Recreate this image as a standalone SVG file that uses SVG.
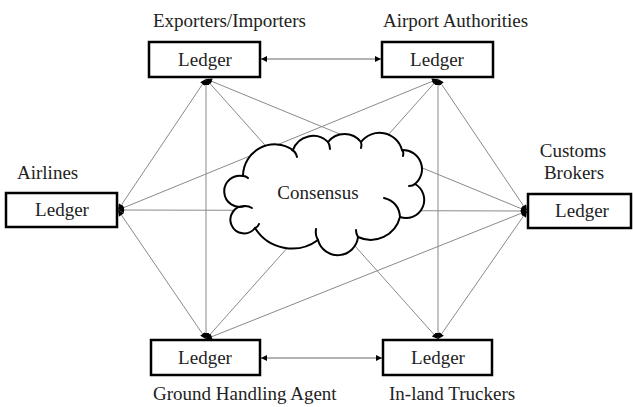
<svg xmlns="http://www.w3.org/2000/svg" width="633" height="407" viewBox="0 0 633 407">
  <style>
    .lbl { font-family: "Liberation Serif", "Times New Roman", serif; font-size: 19px; fill: #222; }
    .led { font-family: "Liberation Serif", "Times New Roman", serif; font-size: 19px; fill: #222; text-anchor: middle; }
    .box { fill: #fff; stroke: #000; stroke-width: 2.5; }
    .conn { stroke: #8a8a8a; stroke-width: 1; fill: none; marker-start: url(#ah); marker-end: url(#ah); }
    .hconn { stroke: #666; stroke-width: 1; fill: none; marker-start: url(#ah); marker-end: url(#ah); }
    .cloud { fill: #fff; stroke: #000; stroke-width: 2; stroke-linejoin: round; }
    .hook { fill: none; stroke: #000; stroke-width: 2; stroke-linecap: round; }
  </style>
  <defs>
    <marker id="ah" viewBox="0 0 10 10" refX="10" refY="5" markerWidth="7" markerHeight="6" orient="auto-start-reverse" markerUnits="userSpaceOnUse">
      <path d="M0,0 L10,5 L0,10 z" fill="#000"/>
    </marker>
  </defs>
  <rect width="633" height="407" fill="#fff"/>

  <g id="connectors">
    <line class="hconn" x1="261" y1="59" x2="381" y2="59"/>
    <line class="hconn" x1="261" y1="358" x2="382" y2="358"/>
    <line class="conn" x1="206" y1="79" x2="118" y2="210"/>
    <line class="conn" x1="206" y1="79" x2="527" y2="211"/>
    <line class="conn" x1="206" y1="79" x2="206" y2="339"/>
    <line class="conn" x1="206" y1="79" x2="438" y2="339"/>
    <line class="conn" x1="438" y1="79" x2="118" y2="210"/>
    <line class="conn" x1="438" y1="79" x2="527" y2="211"/>
    <line class="conn" x1="438" y1="79" x2="206" y2="339"/>
    <line class="conn" x1="438" y1="79" x2="438" y2="339"/>
    <line class="conn" x1="118" y1="210" x2="527" y2="211"/>
    <line class="conn" x1="118" y1="210" x2="206" y2="339"/>
    <line class="conn" x1="527" y1="211" x2="206" y2="339"/>
    <line class="conn" x1="527" y1="211" x2="438" y2="339"/>
  </g>

  <g id="consensus">
    <path class="cloud" d="M243 176 A31.9 31.9 0 0 1 293 150 A21.3 21.3 0 0 1 328 142 A21 21 0 0 1 361 142 A23.3 23.3 0 0 1 402 150 A19.2 19.2 0 0 1 415 184 A18.2 18.2 0 0 1 400 217 A30.2 30.2 0 0 1 358 237 A20.4 20.4 0 0 1 318 240 A43.7 43.7 0 0 1 255 228 A13.7 13.7 0 1 1 245 206 A15.6 15.6 0 1 1 243 176 Z"/>
    <path class="hook" d="M292 150 Q296 152 297 157"/>
    <path class="hook" d="M328 142 Q330 145 330 149"/>
    <path class="hook" d="M361 142 Q362 145 361 148"/>
    <path class="hook" d="M402 150 Q404 152 403 156"/>
    <path class="hook" d="M415 184 Q413 186 409 186"/>
    <path class="hook" d="M400 217 Q399 202 384 198"/>
    <path class="hook" d="M358 237 Q356 234 356 230"/>
    <path class="hook" d="M318 240 Q315 235 316 229"/>
    <path class="hook" d="M255 228 Q258 227 259 224"/>
    <path class="hook" d="M245 206 Q249 206 252 208"/>
    <path class="hook" d="M243 176 Q246 176 248 178"/>
    <text class="led" x="318" y="199">Consensus</text>
  </g>

  <g id="exporters">
    <rect class="box" x="149" y="42" width="111" height="35"/>
    <text class="led" x="205" y="66">Ledger</text>
    <text class="lbl" x="153" y="27">Exporters/Importers</text>
  </g>
  <g id="airport">
    <rect class="box" x="382" y="42" width="111" height="35"/>
    <text class="led" x="437" y="66">Ledger</text>
    <text class="lbl" x="383" y="27">Airport Authorities</text>
  </g>
  <g id="airlines">
    <rect class="box" x="6" y="193" width="111" height="34"/>
    <text class="led" x="62" y="216">Ledger</text>
    <text class="lbl" x="17" y="179">Airlines</text>
  </g>
  <g id="customs">
    <rect class="box" x="528" y="194" width="103" height="34"/>
    <text class="led" x="582" y="217">Ledger</text>
    <text class="led" x="573" y="157">Customs</text>
    <text class="led" x="574" y="179">Brokers</text>
  </g>
  <g id="ground">
    <rect class="box" x="151" y="340" width="109" height="35"/>
    <text class="led" x="205" y="364">Ledger</text>
    <text class="lbl" x="153" y="400">Ground Handling Agent</text>
  </g>
  <g id="truckers">
    <rect class="box" x="383" y="340" width="109" height="35"/>
    <text class="led" x="438" y="364">Ledger</text>
    <text class="lbl" x="389" y="400">In-land Truckers</text>
  </g>
</svg>
